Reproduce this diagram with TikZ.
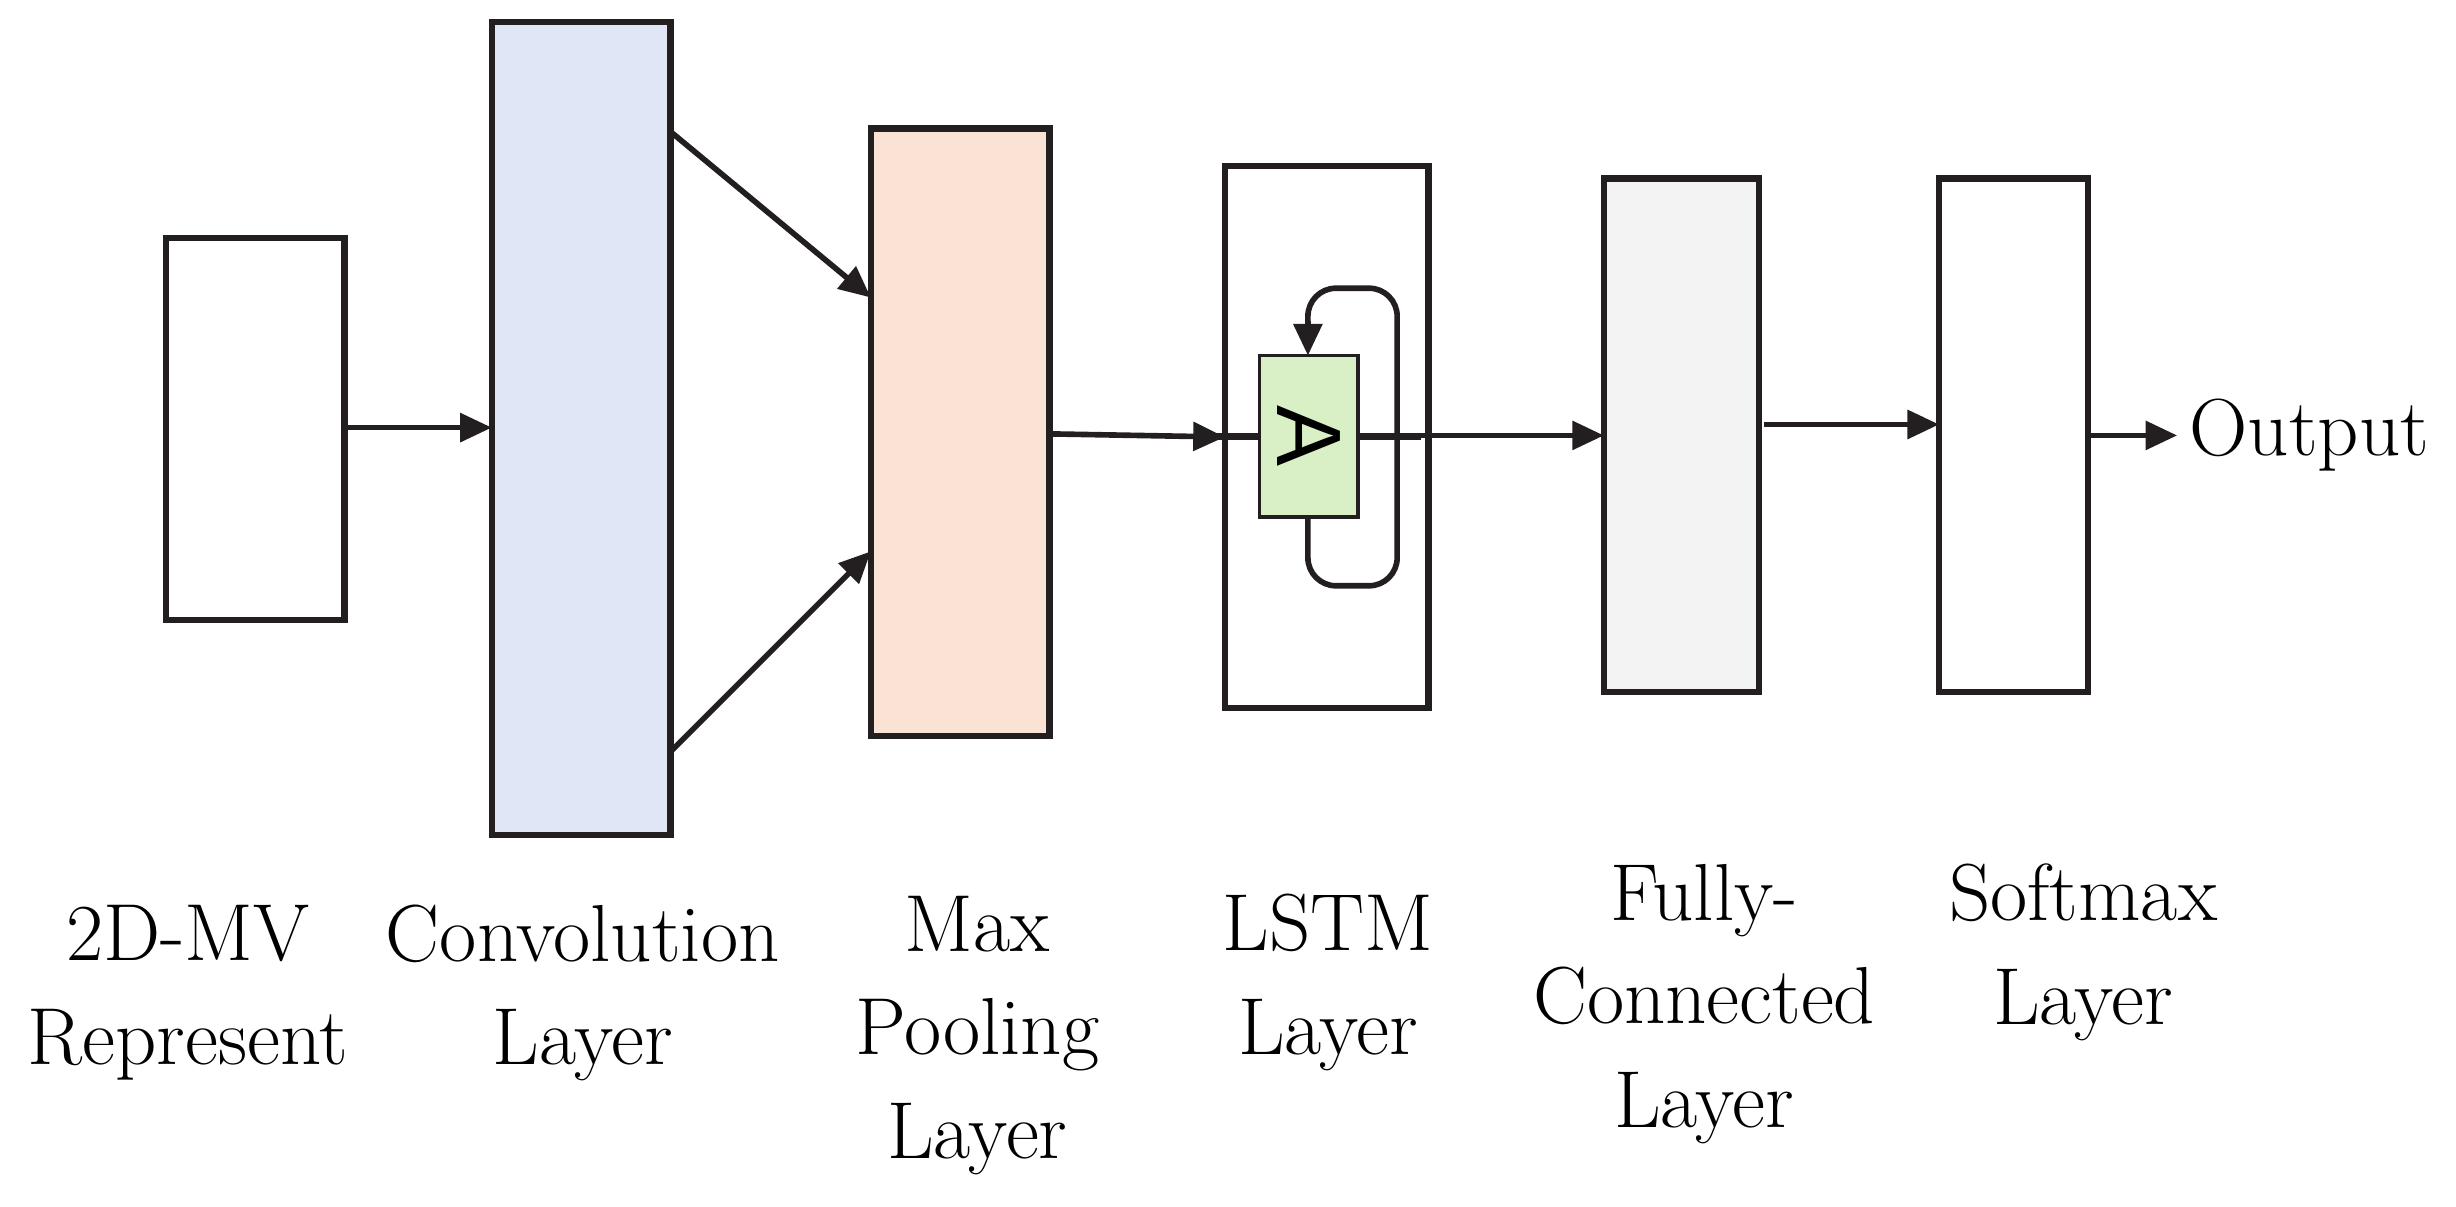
\documentclass[tikz,border=0pt]{standalone}
\usepackage{fontspec}
\usetikzlibrary{arrows.meta}
\newfontfamily\sansA{Liberation Sans}
\definecolor{convc}{HTML}{E0E6F5}
\definecolor{poolc}{HTML}{FAE2D5}
\definecolor{ac}{HTML}{D9F0C6}
\definecolor{fcc}{HTML}{F3F3F3}
\definecolor{ln}{HTML}{231F20}
\begin{document}
\begin{tikzpicture}[x=0.015663cm,y=-0.015663cm,
  box/.style={draw=ln,line width=1.8pt},
  arr/.style={draw=ln,line width=1.6pt,-{Triangle[length=9pt,width=8pt]}},
  lab/.style={align=center,font=\fontsize{23}{29.5}\selectfont,anchor=center}]
\useasboundingbox (0,0) rectangle (1568,770);
\path[box,fill=white] (106,152) rectangle (220,396); \node (mv) at (163,274) {};
\path[box,fill=convc] (314,14) rectangle (428,533); \node (conv) at (371,274) {};
\path[box,fill=poolc] (556,82) rectangle (670,470); \node (pool) at (613,276) {};
\path[box,fill=white] (782,106) rectangle (912,452); \node (lstm) at (847,279) {};
\path[box,fill=fcc] (1024,114) rectangle (1123,442); \node (fc) at (1073,278) {};
\path[box,fill=white] (1238,114) rectangle (1333,442); \node (sm) at (1285,278) {};
% inner A
\node[draw=ln,line width=1pt,fill=ac,minimum width=63\pgflinewidth,inner sep=0pt] (A) at (835.5,278.5) {};
\path[draw=ln,line width=1pt,fill=ac] (804,227) rectangle (867,330);
\node[rotate=-90,font=\sansA\fontsize{26}{26}\selectfont] (Atext) at (835.5,278.5) {A};
\draw[ln,line width=1.6pt,rounded corners=8pt] (835,330) -- (835,374) -- (892,374) -- (892,184) -- (835,184) -- (835,215);
\draw[ln,line width=1.6pt,-{Triangle[length=9pt,width=8pt]}] (835,205) -- (835,227);
\coordinate (aout) at (867,278);
\coordinate (fcin) at (1024,278);
\draw[arr] (aout) -- (fcin);
% arrows
\coordinate (m1) at (220,273); \coordinate (c1) at (314,273);
\draw[arr] (m1) -- (c1);
\coordinate (c2) at (428,84); \coordinate (p2) at (556,190);
\draw[arr] (c2) -- (p2);
\coordinate (c3) at (428,480); \coordinate (p3) at (556,352);
\draw[arr] (c3) -- (p3);
\coordinate (p4) at (670,277); \coordinate (l4) at (782,279);
\draw[arr] (p4) -- (l4);
\coordinate (f5) at (1126,271); \coordinate (s5) at (1238,271);
\draw[arr] (f5) -- (s5);
\node[lab,anchor=west] (out) at (1390,278) {Output};
\coordinate (s6) at (1333,278);
\draw[arr] (s6) -- (out);
% labels
\node[lab] (l1) at (120,634) {2D-MV\\Represent};
\node[lab] (l2) at (372,634) {Convolution\\Layer};
\node[lab] (l3) at (624,661) {Max\\Pooling\\Layer};
\node[lab] (l4t) at (848,627) {LSTM\\Layer};
\node[lab] (l5) at (1088,641) {Fully-\\Connected\\Layer};
\node[lab] (l6) at (1330,608) {Softmax\\Layer};
\end{tikzpicture}
\end{document}
